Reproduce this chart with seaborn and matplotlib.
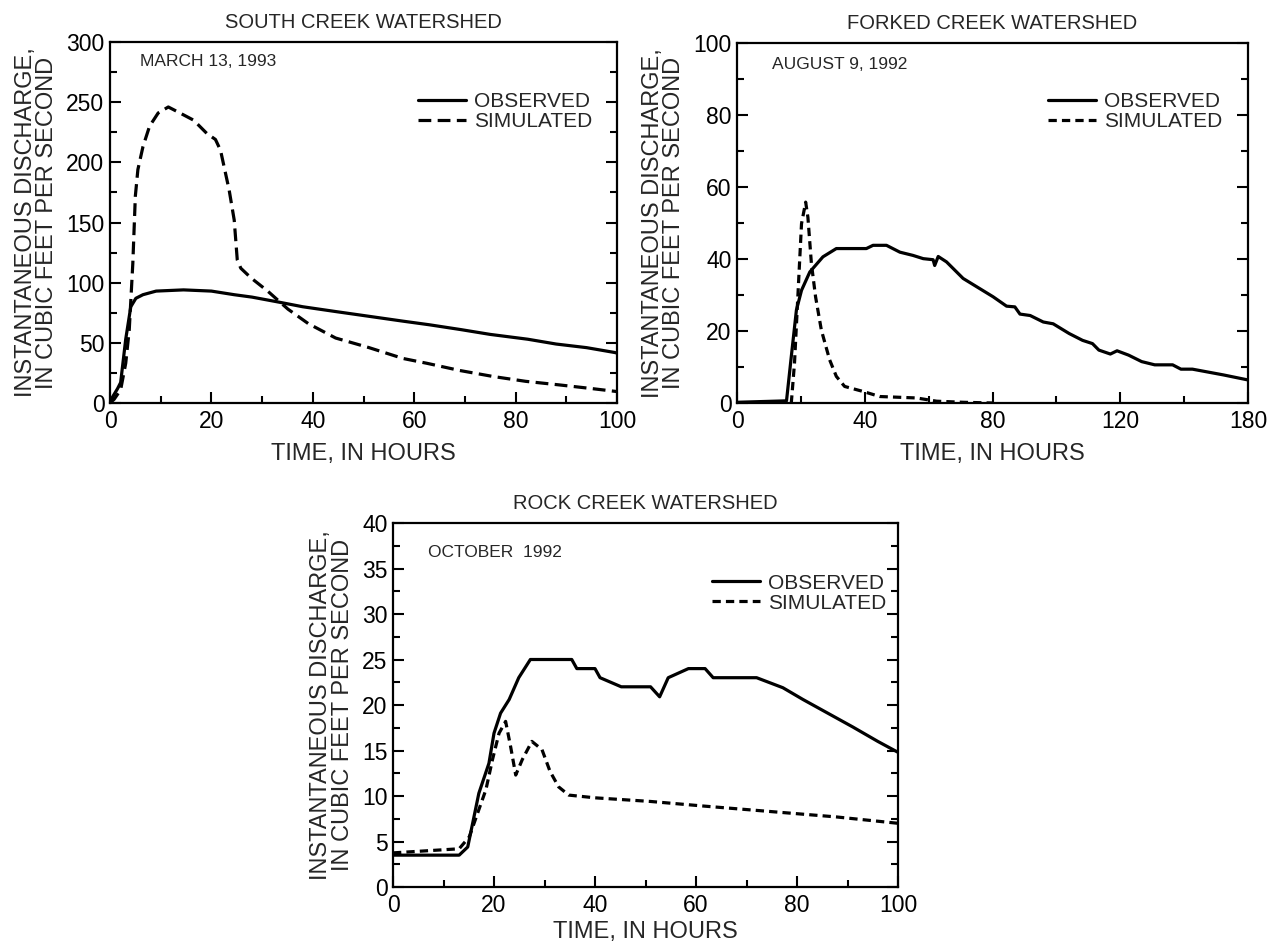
import numpy as np
import pandas as pd
import matplotlib
matplotlib.use("Agg")
import matplotlib.pyplot as plt
import seaborn as sns
from matplotlib.ticker import MultipleLocator

# ---------------- data ----------------
south_titles = "SOUTH CREEK WATERSHED"
south_date = "MARCH 13, 1993"
south_obs_t = [0, 0.5, 1.5, 2.1, 3.1, 4.1, 5.1, 6.5, 9.1, 14.5, 20, 24.5, 28, 33.1, 38, 44.5, 49.5,
               57.8, 63, 69.2, 75, 82.4, 88, 94, 99.5, 100]
south_obs_q = [0, 5, 12, 17, 53, 80, 87, 90, 93, 94, 93, 90, 88, 84, 80, 76, 73,
               68, 65, 61, 57, 53, 49, 46, 42, 41.5]
south_sim_t = [0, 0.8, 2.1, 3.1, 3.8, 4.5, 5, 5.5, 6.5, 7.8, 9.5, 11.5, 13.8, 16.5, 19.1, 20.8, 21.8,
               23.5, 24.5, 25.1, 25.8, 27.8, 31.1, 35.1, 39.1, 44.5, 51.1, 57.8, 62.5, 69, 75.6, 82,
               88.7, 95, 100]
south_sim_q = [0, 3, 11, 33, 61, 116, 172, 194, 213, 230, 241, 246, 241, 235, 224, 219, 210,
               177, 152, 119, 112, 104, 93, 78, 66, 54, 46, 37, 33, 27, 22, 18,
               15, 12, 9.5]
south_xticks = [0, 20, 40, 60, 80, 100]
south_xticklabels = ["0", "20", "40", "60", "80", "100"]
south_yticks = [0, 50, 100, 150, 200, 250, 300]

forked_title = "FORKED CREEK WATERSHED"
forked_date = "AUGUST 9, 1992"
forked_obs_t = [0, 15.5, 17, 18.6, 20.2, 22.8, 26.9, 31.1, 34.3, 40.5, 42.6, 46.8, 51, 55.1, 58.3,
                61.4, 61.9, 63, 65.6, 70.8, 80.2, 84.4, 87, 88.6, 91.8, 95.9, 99, 104, 108.2,
                111.3, 113.3, 116.9, 119, 122.6, 126.7, 130.8, 136.4, 139, 142.6, 152.3, 160]
forked_obs_q = [0.2, 0.6, 12.9, 25.8, 31.3, 36.4, 40.6, 42.9, 42.9, 42.9, 43.8, 43.8, 41.9, 41, 40.1,
                39.8, 38.2, 40.7, 39.2, 34.6, 29.5, 26.9, 26.7, 24.7, 24.3, 22.5, 22, 19.3, 17.4,
                16.5, 14.7, 13.6, 14.5, 13.3, 11.5, 10.6, 10.6, 9.4, 9.4, 7.8, 6.4]
forked_sim_t = [0, 17, 18, 19.1, 20.2, 21.5, 22.2, 23.3, 24.6, 26.4, 29, 31.1, 33.7, 39.5, 44.7,
                56.2, 62.5, 70.8, 80]
forked_sim_q = [0, 0, 11, 30.4, 49.8, 55.8, 51.6, 38.7, 29.5, 20.3, 12, 7.4, 4.6, 3.2, 1.8,
                1.4, 0.5, 0.2, 0]
forked_xticks = [0, 40, 80, 120, 160]
forked_xticklabels = ["0", "40", "80", "120", "180"]
forked_yticks = [0, 20, 40, 60, 80, 100]

rock_title = "ROCK CREEK WATERSHED"
rock_date = "OCTOBER  1992"
rock_obs_t = [0, 13.1, 14.8, 17, 19, 20, 21.3, 23, 24.9, 27.2, 35.4, 36.4, 40, 41, 45.2, 51, 52.8,
              54.5, 58.5, 61.8, 63.4, 72, 77.2, 81.2, 86.1, 91, 96, 99, 100]
rock_obs_q = [3.5, 3.5, 4.4, 10.3, 13.6, 16.9, 19.1, 20.6, 23, 25, 25, 24, 24, 23, 22, 22, 20.9,
              23, 24, 24, 23, 23, 21.9, 20.6, 19.1, 17.6, 16, 15.1, 14.8]
rock_sim_t = [0, 13.1, 15.1, 17, 18.4, 19.7, 21, 22.3, 23.3, 24.3, 25.6, 27.5, 29.5, 31.1, 32.8,
              34.8, 40, 51, 61.4, 74.6, 87.8, 100]
rock_sim_q = [3.75, 4.2, 5.5, 8.5, 10.7, 14, 16.9, 18.2, 15.4, 12.3, 14, 16, 15.1, 12.7, 11,
              10.1, 9.8, 9.4, 8.9, 8.3, 7.7, 7]
rock_xticks = [0, 20, 40, 60, 80, 100]
rock_xticklabels = ["0", "20", "40", "60", "80", "100"]
rock_yticks = [0, 5, 10, 15, 20, 25, 30, 35, 40]

series_names = ["OBSERVED", "SIMULATED"]
xlabel = "TIME, IN HOURS"
ylabel = "INSTANTANEOUS DISCHARGE,\nIN CUBIC FEET PER SECOND"

# ---------------- style ----------------
sns.set_theme(style="ticks")
plt.rcParams["font.family"] = ["Liberation Sans", "DejaVu Sans"]
plt.rcParams["axes.linewidth"] = 1.6
FS_TICK = 16.5
FS_LABEL = 17
FS_TITLE = 14.5
FS_DATE = 12.5
FS_LEG = 15

fig = plt.figure(figsize=(12.67, 9.47), dpi=100)
W, H = 1267, 947


def px_axes(l, r, t, b):
    return fig.add_axes([l / W, (H - b) / H, (r - l) / W, (b - t) / H])


def draw(ax, title, date, ot, oq, st, sq, xlim, xticks, xtl, xminor, yticks, yminor,
         dash, date_pos, leg_pos, xlabelpad=7):
    df = pd.concat([
        pd.DataFrame({"t": ot, "q": oq, "series": series_names[0]}),
        pd.DataFrame({"t": st, "q": sq, "series": series_names[1]}),
    ])
    sns.lineplot(data=df[df.series == series_names[0]], x="t", y="q", ax=ax, color="black",
                 lw=2.3, sort=False, estimator=None, label=series_names[0])
    sns.lineplot(data=df[df.series == series_names[1]], x="t", y="q", ax=ax, color="black",
                 lw=2.3, sort=False, estimator=None, label=series_names[1],
                 linestyle=(0, dash))
    ax.set_xlim(*xlim)
    ax.set_ylim(yticks[0], yticks[-1])
    ax.set_xticks(xticks)
    ax.set_xticklabels(xtl)
    ax.set_yticks(yticks)
    ax.xaxis.set_minor_locator(MultipleLocator(xminor))
    ax.yaxis.set_minor_locator(MultipleLocator(yminor))
    ax.tick_params(which="both", direction="in", right=True, top=False, width=1.5,
                   labelsize=FS_TICK, colors="black")
    ax.tick_params(axis="x", pad=5)
    ax.tick_params(axis="y", pad=4)
    ax.tick_params(which="major", length=8)
    ax.tick_params(which="minor", length=5)
    ax.set_xlabel(xlabel, fontsize=FS_LABEL, labelpad=xlabelpad)
    ax.set_ylabel(ylabel, fontsize=FS_LABEL, labelpad=6, linespacing=0.95)
    ax.set_title(title, fontsize=FS_TITLE, pad=10)
    for s in ax.spines.values():
        s.set_color("black")
    ax.text(date_pos[0], date_pos[1], date, transform=ax.transAxes, fontsize=FS_DATE,
            va="center", ha="left")
    ax.legend(loc="upper left", bbox_to_anchor=leg_pos, frameon=False, fontsize=FS_LEG,
              handlelength=2.3, handletextpad=0.4, borderpad=0, borderaxespad=0,
              labelspacing=0.05)


ax1 = px_axes(110, 617, 42, 403)
draw(ax1, south_titles, south_date, south_obs_t, south_obs_q, south_sim_t, south_sim_q,
     (0, 100), south_xticks, south_xticklabels, 10, south_yticks, 25, (4, 2),
     (0.06, 0.945), (0.607, 0.861))

ax2 = px_axes(737, 1248, 43, 403)
draw(ax2, forked_title, forked_date, forked_obs_t, forked_obs_q, forked_sim_t, forked_sim_q,
     (0, 160), forked_xticks, forked_xticklabels, 20, forked_yticks, 10, (2.6, 1.6),
     (0.068, 0.94), (0.609, 0.864))

ax3 = px_axes(393, 898, 523, 887)
draw(ax3, rock_title, rock_date, rock_obs_t, rock_obs_q, rock_sim_t, rock_sim_q,
     (0, 100), rock_xticks, rock_xticklabels, 10, rock_yticks, 2.5, (2.6, 1.6),
     (0.069, 0.918), (0.632, 0.861), xlabelpad=3)

fig.savefig("out.png", dpi=100)
